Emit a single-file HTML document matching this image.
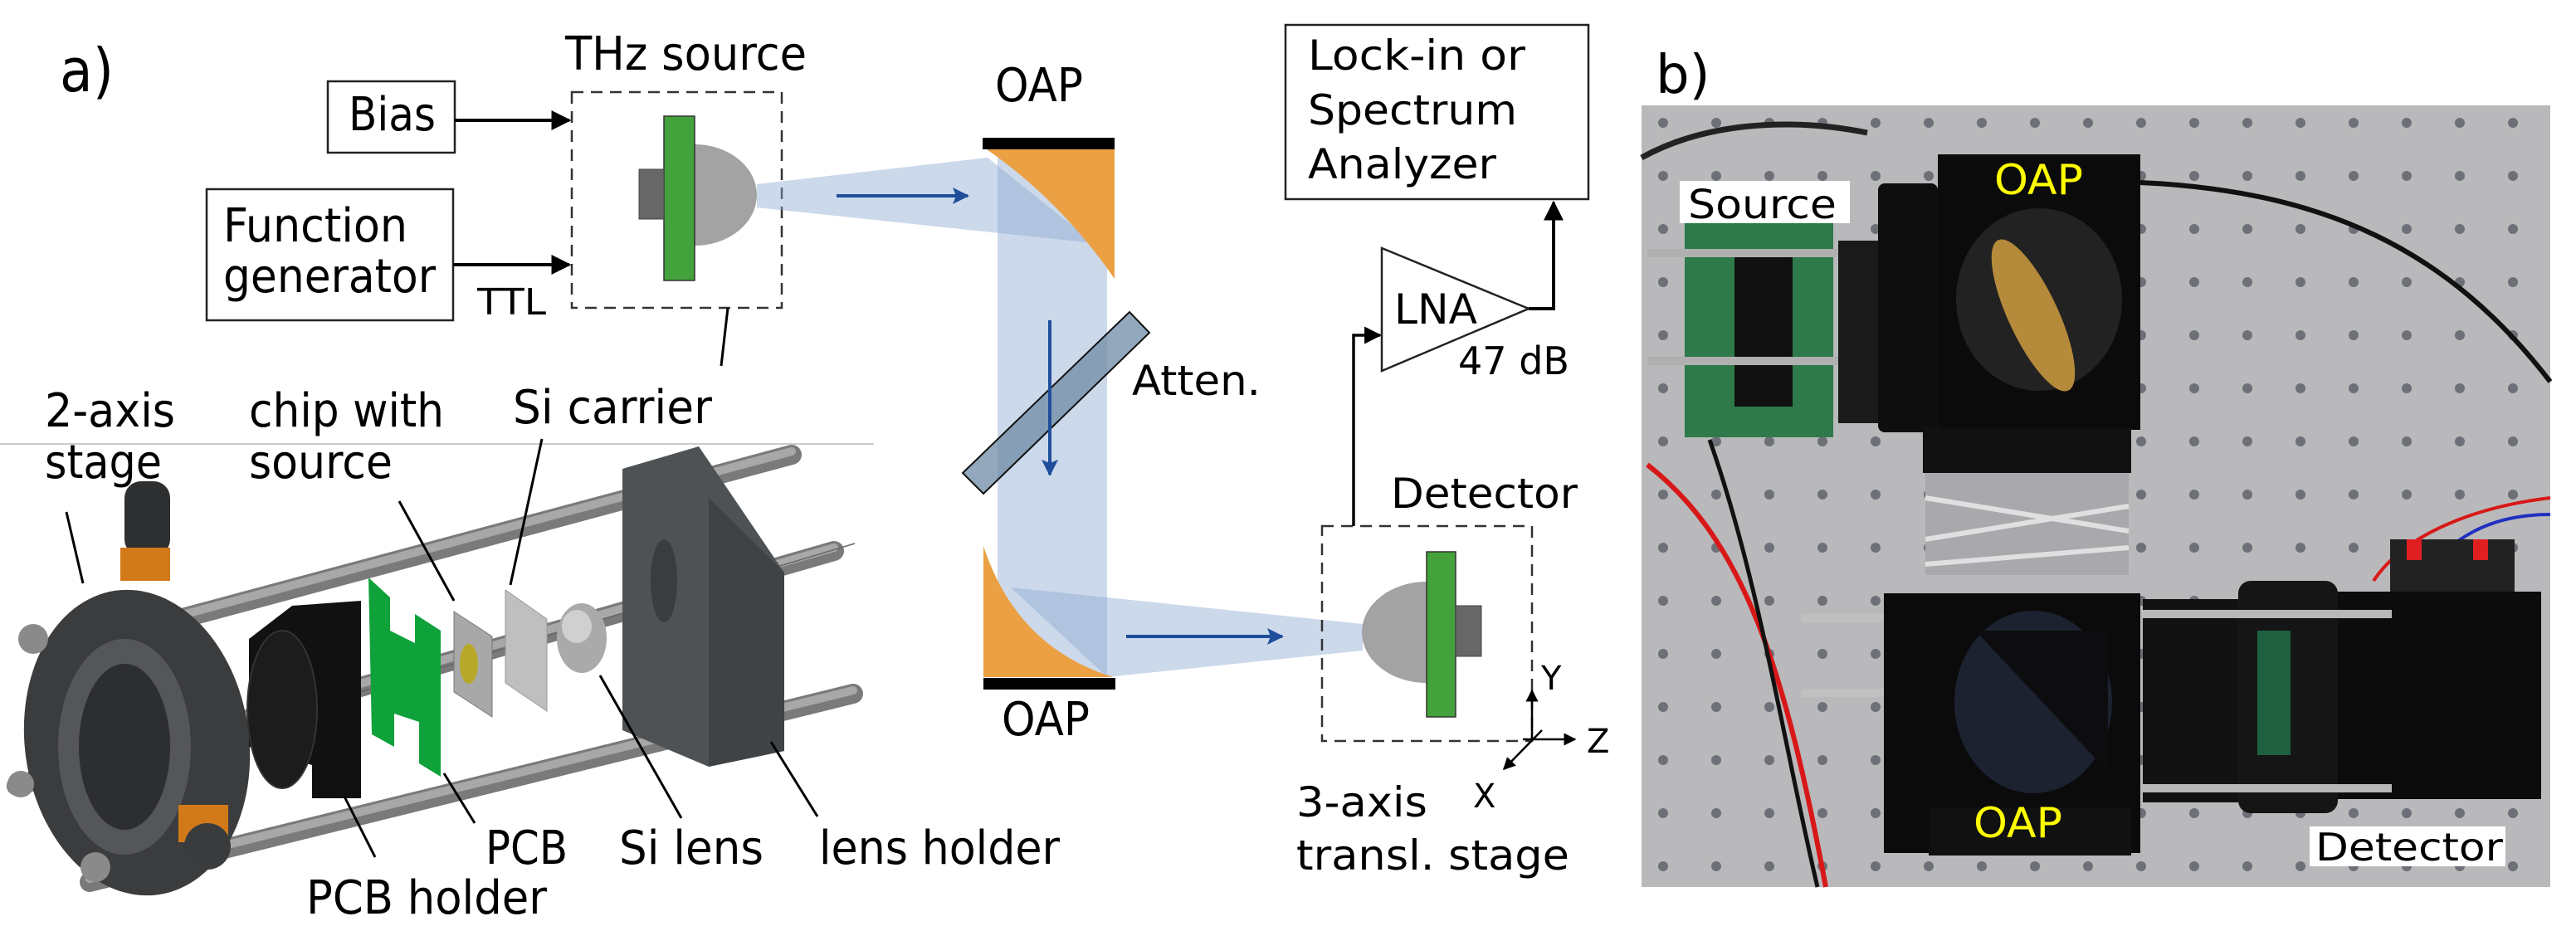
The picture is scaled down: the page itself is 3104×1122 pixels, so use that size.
<!DOCTYPE html>
<html><head><meta charset="utf-8"><style>
html,body{margin:0;padding:0;background:#fff}
svg{display:block}
.c{font-family:"DejaVu Sans Condensed","DejaVu Sans","Liberation Sans",sans-serif;fill:#000}
.w{font-family:"DejaVu Sans","Liberation Sans",sans-serif;fill:#000}
</style></head><body>
<svg width="3104" height="1122" viewBox="0 0 3104 1122" xmlns="http://www.w3.org/2000/svg">
<defs>
<marker id="ah" viewBox="0 0 10 10" refX="9" refY="5" markerWidth="6" markerHeight="6" orient="auto-start-reverse"><path d="M0,0 L10,5 L0,10 z" fill="#000"/></marker>
<marker id="ab" viewBox="0 0 10 10" refX="9" refY="5" markerWidth="5" markerHeight="5" orient="auto"><path d="M0,0 L10,5 L0,10 L2,5 z" fill="#1f4e9b"/></marker>
<pattern id="dots" width="64" height="64" patternUnits="userSpaceOnUse"><rect width="64" height="64" fill="#b9b9bb"/><circle cx="20" cy="20" r="6" fill="#6e7078"/></pattern>
</defs>

<!-- a) -->
<text x="72" y="110" class="c" font-size="72">a)</text>

<!-- Bias / function generator -->
<rect x="395" y="98" width="153" height="86" fill="#fff" stroke="#222" stroke-width="2.5"/>
<text x="420" y="157" class="c" font-size="56" textLength="105" lengthAdjust="spacingAndGlyphs">Bias</text>
<line x1="548" y1="145" x2="686" y2="145" stroke="#000" stroke-width="4" marker-end="url(#ah)"/>
<rect x="249" y="228" width="297" height="158" fill="#fff" stroke="#222" stroke-width="2.5"/>
<text x="269" y="291" class="c" font-size="56" textLength="222" lengthAdjust="spacingAndGlyphs">Function</text>
<text x="269" y="352" class="c" font-size="56" textLength="256" lengthAdjust="spacingAndGlyphs">generator</text>
<line x1="546" y1="319" x2="686" y2="319" stroke="#000" stroke-width="4" marker-end="url(#ah)"/>
<text x="575" y="379" class="c" font-size="44" textLength="83" lengthAdjust="spacingAndGlyphs">TTL</text>

<text x="681" y="84" class="c" font-size="56" textLength="291" lengthAdjust="spacingAndGlyphs">THz source</text>
<rect x="689" y="111" width="253" height="260" fill="none" stroke="#333" stroke-width="2.5" stroke-dasharray="14,9"/>

<!-- beams -->
<polygon points="912,222 1190,190 1318,293 912,250" fill="#8eaad3" fill-opacity="0.45"/>
<rect x="1202" y="190" width="132" height="626" fill="#8eaad3" fill-opacity="0.45"/>
<polygon points="1218,708 1334,816 1642,784 1642,752" fill="#8eaad3" fill-opacity="0.45"/>

<!-- source -->
<path d="M837,174 A75,61 0 0 1 837,296 Z" fill="#a3a3a3"/>
<rect x="800" y="140" width="37" height="198" fill="#43a23b" stroke="#333" stroke-width="1.5"/>
<rect x="770" y="204" width="30" height="60" fill="#676767" stroke="#444" stroke-width="1"/>
<line x1="877" y1="371" x2="869" y2="441" stroke="#000" stroke-width="3"/>

<!-- mirrors -->
<path d="M1189,180 L1343,180 L1343,336 Q1278,242 1189,180 Z" fill="#eba043"/>
<rect x="1184" y="166" width="159" height="14" fill="#000"/>
<path d="M1185,658 Q1225,780 1341,816 L1185,816 Z" fill="#eba043"/>
<rect x="1185" y="817" width="159" height="14" fill="#000"/>
<text x="1199" y="122" class="w" font-size="56" textLength="106" lengthAdjust="spacingAndGlyphs">OAP</text>
<text x="1207" y="886" class="w" font-size="56" textLength="106" lengthAdjust="spacingAndGlyphs">OAP</text>

<!-- attenuator -->
<polygon points="1361,376 1385,401 1185,595 1160,570" fill="#6f8ba6" fill-opacity="0.75" stroke="#111" stroke-width="2"/>
<text x="1364" y="476" class="w" font-size="50" textLength="155" lengthAdjust="spacingAndGlyphs">Atten.</text>

<!-- blue arrows -->
<line x1="1008" y1="236" x2="1166" y2="236" stroke="#1f4e9b" stroke-width="4" marker-end="url(#ab)"/>
<line x1="1265" y1="386" x2="1265" y2="572" stroke="#1f4e9b" stroke-width="4" marker-end="url(#ab)"/>
<line x1="1357" y1="767" x2="1545" y2="767" stroke="#1f4e9b" stroke-width="4" marker-end="url(#ab)"/>

<!-- detector -->
<text x="1676" y="612" class="w" font-size="50" textLength="225" lengthAdjust="spacingAndGlyphs">Detector</text>
<rect x="1593" y="634" width="253" height="259" fill="none" stroke="#333" stroke-width="2.5" stroke-dasharray="14,9"/>
<path d="M1719,701 A78,61 0 0 0 1719,823 Z" fill="#a3a3a3"/>
<rect x="1719" y="665" width="35" height="199" fill="#43a23b" stroke="#333" stroke-width="1.5"/>
<rect x="1754" y="730" width="31" height="61" fill="#676767" stroke="#444" stroke-width="1"/>

<!-- axes -->
<line x1="1846" y1="891" x2="1846" y2="832" stroke="#000" stroke-width="2.5" marker-end="url(#ah)"/>
<line x1="1835" y1="891" x2="1898" y2="891" stroke="#000" stroke-width="2.5" marker-end="url(#ah)"/>
<line x1="1858" y1="880" x2="1812" y2="927" stroke="#000" stroke-width="2.5" marker-end="url(#ah)"/>
<text x="1857" y="831" class="w" font-size="40">Y</text>
<text x="1912" y="907" class="w" font-size="40">Z</text>
<text x="1775" y="973" class="w" font-size="40">X</text>
<text x="1562" y="984" class="w" font-size="50" textLength="158" lengthAdjust="spacingAndGlyphs">3-axis</text>
<text x="1562" y="1048" class="w" font-size="50" textLength="329" lengthAdjust="spacingAndGlyphs">transl. stage</text>

<!-- LNA -->
<polyline points="1631,634 1631,404 1663,404" fill="none" stroke="#000" stroke-width="3.5" marker-end="url(#ah)"/>
<polygon points="1665,299 1842,372 1665,447" fill="#fff" stroke="#222" stroke-width="2.5"/>
<text x="1680" y="390" class="w" font-size="50" textLength="100" lengthAdjust="spacingAndGlyphs">LNA</text>
<text x="1757" y="451" class="w" font-size="46" textLength="134" lengthAdjust="spacingAndGlyphs">47 dB</text>
<polyline points="1842,372 1872,372 1872,244" fill="none" stroke="#000" stroke-width="4" marker-end="url(#ah)"/>
<rect x="1549" y="30" width="365" height="210" fill="#fff" stroke="#222" stroke-width="2.5"/>
<text x="1576" y="84" class="w" font-size="50" textLength="262" lengthAdjust="spacingAndGlyphs">Lock-in or</text>
<text x="1576" y="150" class="w" font-size="50" textLength="252" lengthAdjust="spacingAndGlyphs">Spectrum</text>
<text x="1576" y="215" class="w" font-size="50" textLength="227" lengthAdjust="spacingAndGlyphs">Analyzer</text>

<!-- CAD drawing -->
<line x1="0" y1="535" x2="1053" y2="535" stroke="#ccc" stroke-width="2"/>
<g stroke-linecap="round">
<line x1="216" y1="746" x2="954" y2="548" stroke="#7a7a7a" stroke-width="24"/>
<line x1="216" y1="742" x2="954" y2="544" stroke="#a8a8a8" stroke-width="10"/>
<line x1="20" y1="947" x2="1005" y2="664" stroke="#7a7a7a" stroke-width="24"/>
<line x1="20" y1="943" x2="1005" y2="660" stroke="#a8a8a8" stroke-width="10"/>
<line x1="108" y1="1063" x2="1028" y2="836" stroke="#7a7a7a" stroke-width="24"/>
<line x1="108" y1="1059" x2="1028" y2="832" stroke="#a8a8a8" stroke-width="10"/>
</g>
<line x1="280" y1="880" x2="1030" y2="655" stroke="#666" stroke-width="1.5"/>
<!-- lens holder -->
<polygon points="750,565 842,538 945,690 945,905 854,924 750,880" fill="#4e5254"/>
<polygon points="854,600 945,690 945,905 854,924" fill="#3f4345"/>
<ellipse cx="800" cy="700" rx="16" ry="50" fill="#3a3d3f"/>
<!-- left plate -->
<ellipse cx="165" cy="895" rx="135" ry="185" fill="#3b3c3e" transform="rotate(-8 165 895)"/>
<ellipse cx="150" cy="900" rx="80" ry="130" fill="#545659"/>
<ellipse cx="150" cy="900" rx="55" ry="100" fill="#2d2e30"/>
<rect x="150" y="580" width="55" height="90" rx="20" fill="#2e2f31"/>
<rect x="145" y="660" width="60" height="40" fill="#d27a1a"/>
<rect x="215" y="970" width="60" height="45" fill="#d27a1a"/>
<circle cx="250" cy="1020" r="28" fill="#3a3b3d"/>
<circle cx="40" cy="770" r="18" fill="#8a8a8a"/>
<circle cx="115" cy="1045" r="18" fill="#8a8a8a"/>
<circle cx="25" cy="945" r="16" fill="#8a8a8a"/>
<!-- PCB holder -->
<polygon points="352,730 435,724 435,962 376,962 376,922 300,900 300,770" fill="#111"/>
<ellipse cx="340" cy="855" rx="42" ry="95" fill="#1c1c1c" stroke="#333" stroke-width="2"/>
<!-- PCB -->
<polygon points="444,696 470,720 470,760 500,775 500,740 531,760 531,936 505,920 505,870 475,860 475,900 448,885" fill="#0fa13a"/>
<!-- chip -->
<polygon points="547,737 593,767 593,864 547,834" fill="#a8a8a8" stroke="#777"/>
<ellipse cx="565" cy="800" rx="11" ry="24" fill="#b8a82a"/>
<!-- Si carrier -->
<polygon points="609,711 659,746 659,857 609,823" fill="#bfbfbf" stroke="#999"/>
<!-- Si lens -->
<ellipse cx="701" cy="769" rx="30" ry="42" fill="#aaa"/>
<ellipse cx="695" cy="755" rx="18" ry="20" fill="#d0d0d0"/>
<!-- CAD leaders -->
<g stroke="#000" stroke-width="3">
<line x1="80" y1="617" x2="100" y2="703"/>
<line x1="481" y1="604" x2="547" y2="724"/>
<line x1="653" y1="529" x2="615" y2="705"/>
<line x1="535" y1="932" x2="572" y2="992"/>
<line x1="415" y1="960" x2="452" y2="1033"/>
<line x1="723" y1="814" x2="821" y2="986"/>
<line x1="929" y1="894" x2="985" y2="984"/>
</g>
<text x="54" y="514" class="c" font-size="56" textLength="157" lengthAdjust="spacingAndGlyphs">2-axis</text>
<text x="54" y="576" class="c" font-size="56" textLength="141" lengthAdjust="spacingAndGlyphs">stage</text>
<text x="300" y="514" class="c" font-size="56" textLength="235" lengthAdjust="spacingAndGlyphs">chip with</text>
<text x="300" y="576" class="c" font-size="56" textLength="173" lengthAdjust="spacingAndGlyphs">source</text>
<text x="618" y="510" class="c" font-size="56" textLength="240" lengthAdjust="spacingAndGlyphs">Si carrier</text>
<text x="585" y="1041" class="c" font-size="56" textLength="99" lengthAdjust="spacingAndGlyphs">PCB</text>
<text x="746" y="1041" class="c" font-size="56" textLength="174" lengthAdjust="spacingAndGlyphs">Si lens</text>
<text x="987" y="1041" class="c" font-size="56" textLength="290" lengthAdjust="spacingAndGlyphs">lens holder</text>
<text x="369" y="1101" class="c" font-size="56" textLength="290" lengthAdjust="spacingAndGlyphs">PCB holder</text>

<!-- b) -->
<text x="1995" y="112" class="w" font-size="64">b)</text>

<!-- Photo -->
<g>
<rect x="1978" y="127" width="1095" height="942" fill="url(#dots)"/>
<path d="M2579,220 C2800,230 2950,300 3073,460" fill="none" stroke="#111" stroke-width="6"/>
<path d="M1978,190 C2050,150 2150,140 2250,160" fill="none" stroke="#222" stroke-width="7"/>
<path d="M1985,560 C2100,650 2150,800 2200,1069" fill="none" stroke="#d81818" stroke-width="6"/>
<path d="M2060,530 C2120,700 2150,900 2190,1069" fill="none" stroke="#111" stroke-width="5"/>
<path d="M2860,700 C2900,640 2990,610 3073,600" fill="none" stroke="#d81818" stroke-width="4"/>
<path d="M2900,720 C2950,640 3010,620 3073,620" fill="none" stroke="#2030c0" stroke-width="4"/>
<rect x="2030" y="259" width="179" height="268" fill="#2f7a4a"/>
<rect x="2090" y="300" width="70" height="190" fill="#111"/>
<rect x="1985" y="300" width="240" height="10" fill="#b0b0b0"/>
<rect x="1985" y="430" width="240" height="10" fill="#b0b0b0"/>
<rect x="2215" y="290" width="60" height="220" fill="#1a1a1a"/>
<rect x="2263" y="221" width="72" height="300" rx="8" fill="#0e0e0e"/>
<rect x="2335" y="186" width="244" height="332" fill="#0b0b0b"/>
<ellipse cx="2457" cy="361" rx="100" ry="110" fill="#222"/>
<ellipse cx="2450" cy="380" rx="30" ry="100" fill="#b58a3a" transform="rotate(-25 2450 380)"/>
<rect x="2317" y="515" width="251" height="55" fill="#111"/>
<rect x="2320" y="570" width="245" height="123" fill="#a9a9ad"/>
<path d="M2320,600 L2565,640 M2320,650 L2565,610 M2320,680 L2565,660" stroke="#e0e0e0" stroke-width="6"/>
<rect x="2270" y="715" width="309" height="313" fill="#0b0b0b"/>
<ellipse cx="2450" cy="846" rx="95" ry="110" fill="#1c2230"/>
<polygon points="2380,760 2540,930 2540,760" fill="#0d0d0f"/>
<rect x="2324" y="974" width="244" height="57" fill="#111"/>
<rect x="2582" y="722" width="115" height="245" fill="#121212"/>
<rect x="2697" y="700" width="120" height="280" rx="15" fill="#151515"/>
<rect x="2720" y="760" width="40" height="150" fill="#1f6040"/>
<rect x="2817" y="713" width="245" height="250" fill="#0c0c0c"/>
<rect x="2880" y="650" width="150" height="63" fill="#222"/>
<rect x="2900" y="650" width="18" height="25" fill="#e02020"/>
<rect x="2980" y="650" width="18" height="25" fill="#e02020"/>
<rect x="2170" y="740" width="100" height="10" fill="#c0c0c0"/>
<rect x="2170" y="830" width="100" height="10" fill="#c0c0c0"/>
<rect x="2582" y="735" width="300" height="10" fill="#b8b8b8"/>
<rect x="2582" y="945" width="300" height="10" fill="#b8b8b8"/>
<rect x="2024" y="218" width="205" height="51" fill="#fff"/>
<text x="2034" y="263" class="w" font-size="48" textLength="179" lengthAdjust="spacingAndGlyphs">Source</text>
<text x="2403" y="234" class="w" font-size="50" fill="#ffff00" style="fill:#ffff00" textLength="107" lengthAdjust="spacingAndGlyphs">OAP</text>
<text x="2378" y="1009" class="w" font-size="50" style="fill:#ffff00" textLength="107" lengthAdjust="spacingAndGlyphs">OAP</text>
<rect x="2783" y="996" width="236" height="48" fill="#fff"/>
<text x="2790" y="1037" class="w" font-size="46" textLength="226" lengthAdjust="spacingAndGlyphs">Detector</text>
</g>
</svg>
</body></html>
